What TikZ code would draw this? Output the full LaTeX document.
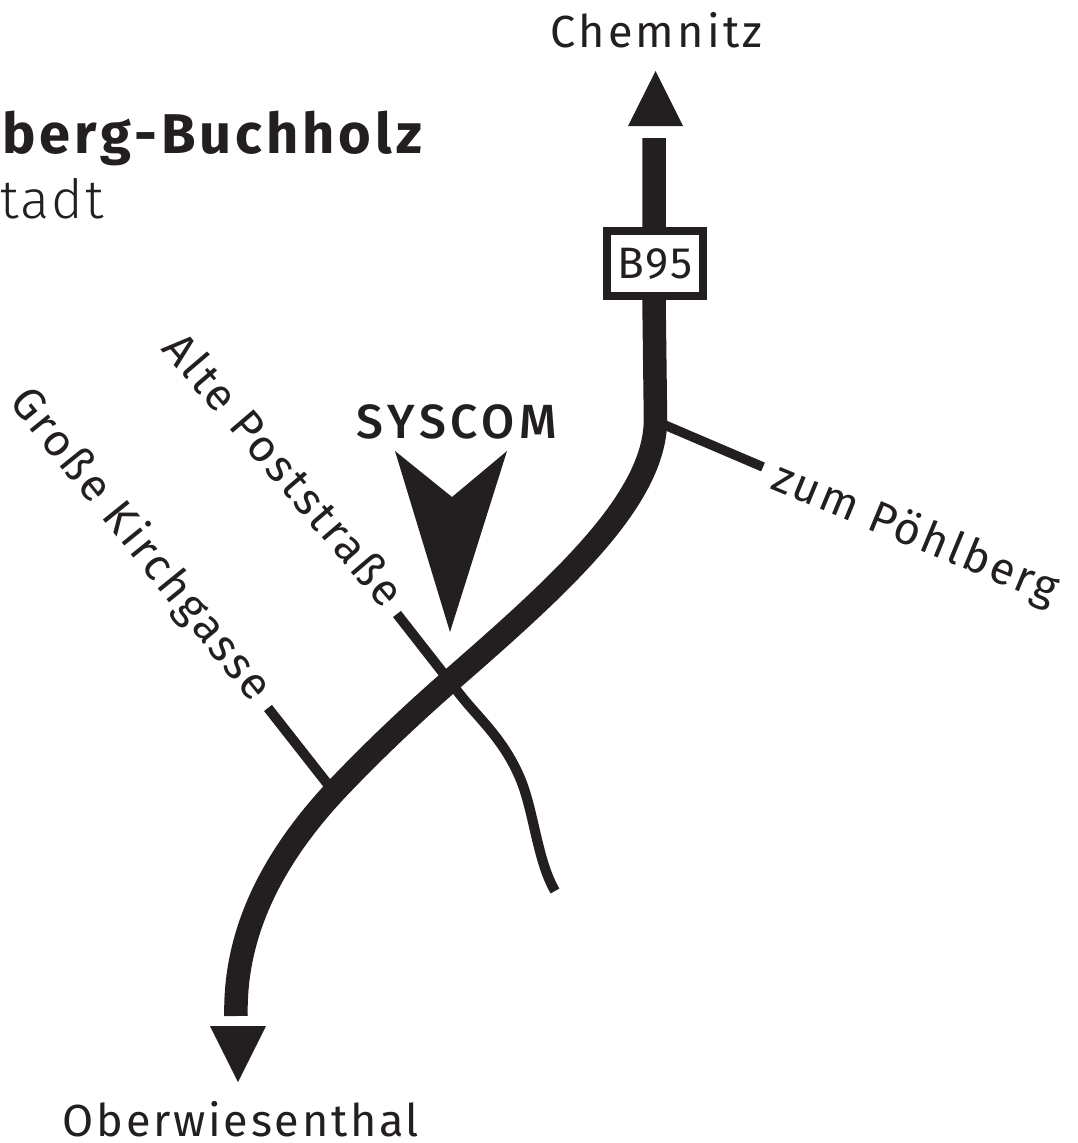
\documentclass[tikz,border=0pt]{standalone}
\usepackage{fontspec}
\setmainfont{Fira Sans}
\newfontfamily\lightf{Fira Sans Light}
\newfontfamily\medf{Fira Sans Medium}
\definecolor{ink}{HTML}{231F20}
\tikzset{
 lbl/.style={text=ink,font=\fontsize{45}{46}\selectfont,inner sep=0pt,anchor=base},
 road/.style={draw=ink,line cap=butt,line join=round},
}
\begin{document}
\begin{tikzpicture}[x=1pt,y=-1pt,every node/.append style={inner sep=0pt}]
\useasboundingbox (0,0) rectangle (1078,1143);
% main road
\coordinate (a) at (654,138);
\coordinate (c) at (654,300);
\coordinate (b) at (236,1016);
\draw[road,line width=23.5] (a) -- (c) -- (655.5,420)
 .. controls (655,500) and (560,585) .. (450,681)
 .. controls (410,716) and (372,752) .. (336,790)
 .. controls (280,850) and (234,925) .. (b);
% side roads
\coordinate (p1) at (660,423);
\coordinate (p2) at (763,467);
\draw[road,line width=9.5] (p1) -- (p2);
\coordinate (k1) at (268,708);
\coordinate (k2) at (330,787);
\draw[road,line width=10] (k1) -- (k2);
\coordinate (s1) at (397,614);
\coordinate (s2) at (555,891);
\draw[road,line width=10] (s1) -- (458,692) .. controls (478,718) and (503,738) .. (520,778) .. controls (534,811) and (537,860) .. (s2);
% arrows
\fill[ink] (655.5,71) -- (683,126) -- (628,126) -- cycle;
\fill[ink] (238,1082) -- (210,1026) -- (266,1026) -- cycle;
\fill[ink] (395,451) -- (452,497) -- (507,451) -- (450,632) -- cycle;
% B95
\node[draw=ink,line width=7.5,fill=white,text=ink,font=\fontsize{44}{44}\selectfont,minimum width=96,minimum height=65] (b95) at (655,263.5) {\addfontfeatures{LetterSpace=4}B95};
% labels
\node[lbl] (chem) at (656.5,47) {\addfontfeatures{LetterSpace=7}Chemnitz};
\node[lbl] (ober) at (241,1136) {\addfontfeatures{LetterSpace=6}Oberwiesenthal};
\node[lbl,anchor=base west,font=\fontsize{56}{56}\bfseries] (title) at (2,153) {\addfontfeatures{LetterSpace=7}berg-Buchholz};
\node[lbl,anchor=base west,font=\fontsize{54}{54}\lightf] (sub) at (0,218) {\addfontfeatures{LetterSpace=4}tadt};
\node[lbl,font=\fontsize{48}{48}\medf] (sys) at (457,438) {\addfontfeatures{LetterSpace=10}SYSCOM};
\node[lbl,anchor=center,rotate=-49.5] (alte) at (285,469) {\addfontfeatures{LetterSpace=6}Alte Poststraße};
\node[lbl,anchor=center,rotate=-51] (gross) at (140,545) {\addfontfeatures{LetterSpace=6}Große Kirchgasse};
\node[lbl,anchor=center,rotate=-22.5] (zum) at (915,535) {\addfontfeatures{LetterSpace=6}zum Pöhlberg};
\end{tikzpicture}
\end{document}
